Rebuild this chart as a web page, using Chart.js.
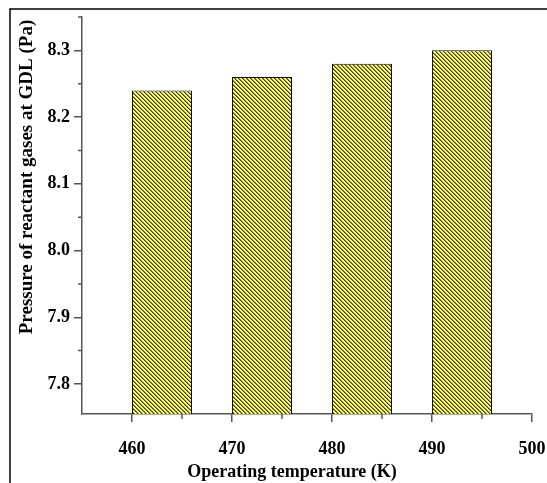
<!DOCTYPE html>
<html>
<head>
<meta charset="utf-8">
<script src="https://cdn.jsdelivr.net/npm/chart.js@4"></script>
<style>
  html, body { margin: 0; padding: 0; background: #fff; }
  #wrap { width: 547px; height: 483px; }
</style>
</head>
<body>
<div id="wrap"><canvas id="myChart"></canvas></div>
<script>
// Datos del gráfico
const temperatures = [460, 470, 480, 490];
const pressures = [8.24, 8.26, 8.28, 8.30];
const xTicks = [460, 470, 480, 490, 500];
const yTicks = [7.8, 7.9, 8.0, 8.1, 8.2, 8.3];
const xMinorTicks = [465, 475, 485, 495];
const yMinorTicks = [7.85, 7.95, 8.05, 8.15, 8.25, 8.35];
const xTitle = "Operating temperature (K)";
const yTitle = "Pressure of reactant gases at GDL (Pa)";

const barWidthK = 6;           // bars start at the tick and are 6 K wide
const serif = "'Liberation Serif', 'Times New Roman', serif";
const axisColor = "#555";

// Hatch pattern (yellow with dark diagonal lines)
function makeHatch() {
  const c = document.createElement("canvas");
  c.width = 4; c.height = 4;
  const g = c.getContext("2d");
  const img = g.createImageData(4, 4);
  for (let y = 0; y < 4; y++) {
    for (let x = 0; x < 4; x++) {
      const i = (y * 4 + x) * 4;
      const d = (x - y + 8) % 4;
      // 0 = dark line, 1 = half tone, 2-3 = yellow
      const col = d === 0 ? [60, 60, 20] : d === 1 ? [150, 150, 60] : [255, 255, 110];
      img.data[i] = col[0];
      img.data[i + 1] = col[1];
      img.data[i + 2] = col[2];
      img.data[i + 3] = 255;
    }
  }
  g.putImageData(img, 0, 0);
  return g.createPattern(c, "repeat");
}

// Frame, minor ticks and axis titles
const extras = {
  id: "extras",
  beforeDraw(chart) {
    const ctx = chart.ctx;
    ctx.save();
    ctx.strokeStyle = "#000";
    ctx.lineWidth = 1.5;
    ctx.beginPath();
    ctx.moveTo(10, 483);
    ctx.lineTo(10, 9);
    ctx.lineTo(547, 9);
    ctx.stroke();
    ctx.restore();
  },
  afterDraw(chart) {
    const ctx = chart.ctx;
    const xs = chart.scales.x, ys = chart.scales.y;
    const area = chart.chartArea;
    ctx.save();
    ctx.strokeStyle = axisColor;
    ctx.lineWidth = 1.5;
    ctx.beginPath();
    xMinorTicks.forEach(v => {
      const px = xs.getPixelForValue(v);
      ctx.moveTo(px, area.bottom);
      ctx.lineTo(px, area.bottom + 5);
    });
    yMinorTicks.forEach(v => {
      const py = ys.getPixelForValue(v);
      ctx.moveTo(area.left, py);
      ctx.lineTo(area.left - 4, py);
    });
    ctx.stroke();

    ctx.fillStyle = "#000";
    ctx.textAlign = "center";
    ctx.textBaseline = "middle";
    ctx.font = "bold 18px " + serif;
    ctx.fillText(xTitle, 292, 472);
    ctx.translate(27, 177);
    ctx.rotate(-Math.PI / 2);
    ctx.font = "bold 19px " + serif;
    ctx.fillText(yTitle, 0, 0);
    ctx.restore();
  }
};

const ctx = document.getElementById("myChart").getContext("2d");
new Chart(ctx, {
  type: "bar",
  data: {
    datasets: [{
      label: "Pressure",
      data: temperatures.map((t, i) => ({ x: t + barWidthK / 2, y: pressures[i] })),
      backgroundColor: makeHatch(),
      borderColor: "#111",
      borderWidth: 1,
      barPercentage: 0.6,
      categoryPercentage: 1.0
    }]
  },
  options: {
    responsive: true,
    maintainAspectRatio: false,
    animation: false,
    layout: { padding: { left: 0, top: 17, right: 15, bottom: 0 } },
    plugins: { legend: { display: false }, tooltip: { enabled: false } },
    scales: {
      x: {
        type: "linear",
        min: 455,
        max: 500,
        offset: false,
        afterBuildTicks: s => { s.ticks = xTicks.map(v => ({ value: v })); },
        afterFit: s => { s.height = 69; s.paddingLeft = 0; s.paddingRight = 0; },
        grid: { offset: false, drawOnChartArea: false, tickLength: 8, color: axisColor, lineWidth: 1.5 },
        border: { color: axisColor, width: 1.5 },
        ticks: { color: "#000", padding: 17, font: { family: serif, size: 18, weight: "bold" }, maxRotation: 0 }
      },
      y: {
        min: 7.755,
        max: 8.35,
        afterBuildTicks: s => { s.ticks = yTicks.map(v => ({ value: v })); },
        afterFit: s => { s.width = 82; s.paddingTop = 0; s.paddingBottom = 0; },
        grid: { drawOnChartArea: false, tickLength: 8, color: axisColor, lineWidth: 1.5 },
        border: { color: axisColor, width: 1.5 },
        ticks: {
          color: "#000",
          padding: 4,
          font: { family: serif, size: 18, weight: "bold" },
          callback: v => v.toFixed(1)
        }
      }
    }
  },
  plugins: [extras]
});
</script>
</body>
</html>
